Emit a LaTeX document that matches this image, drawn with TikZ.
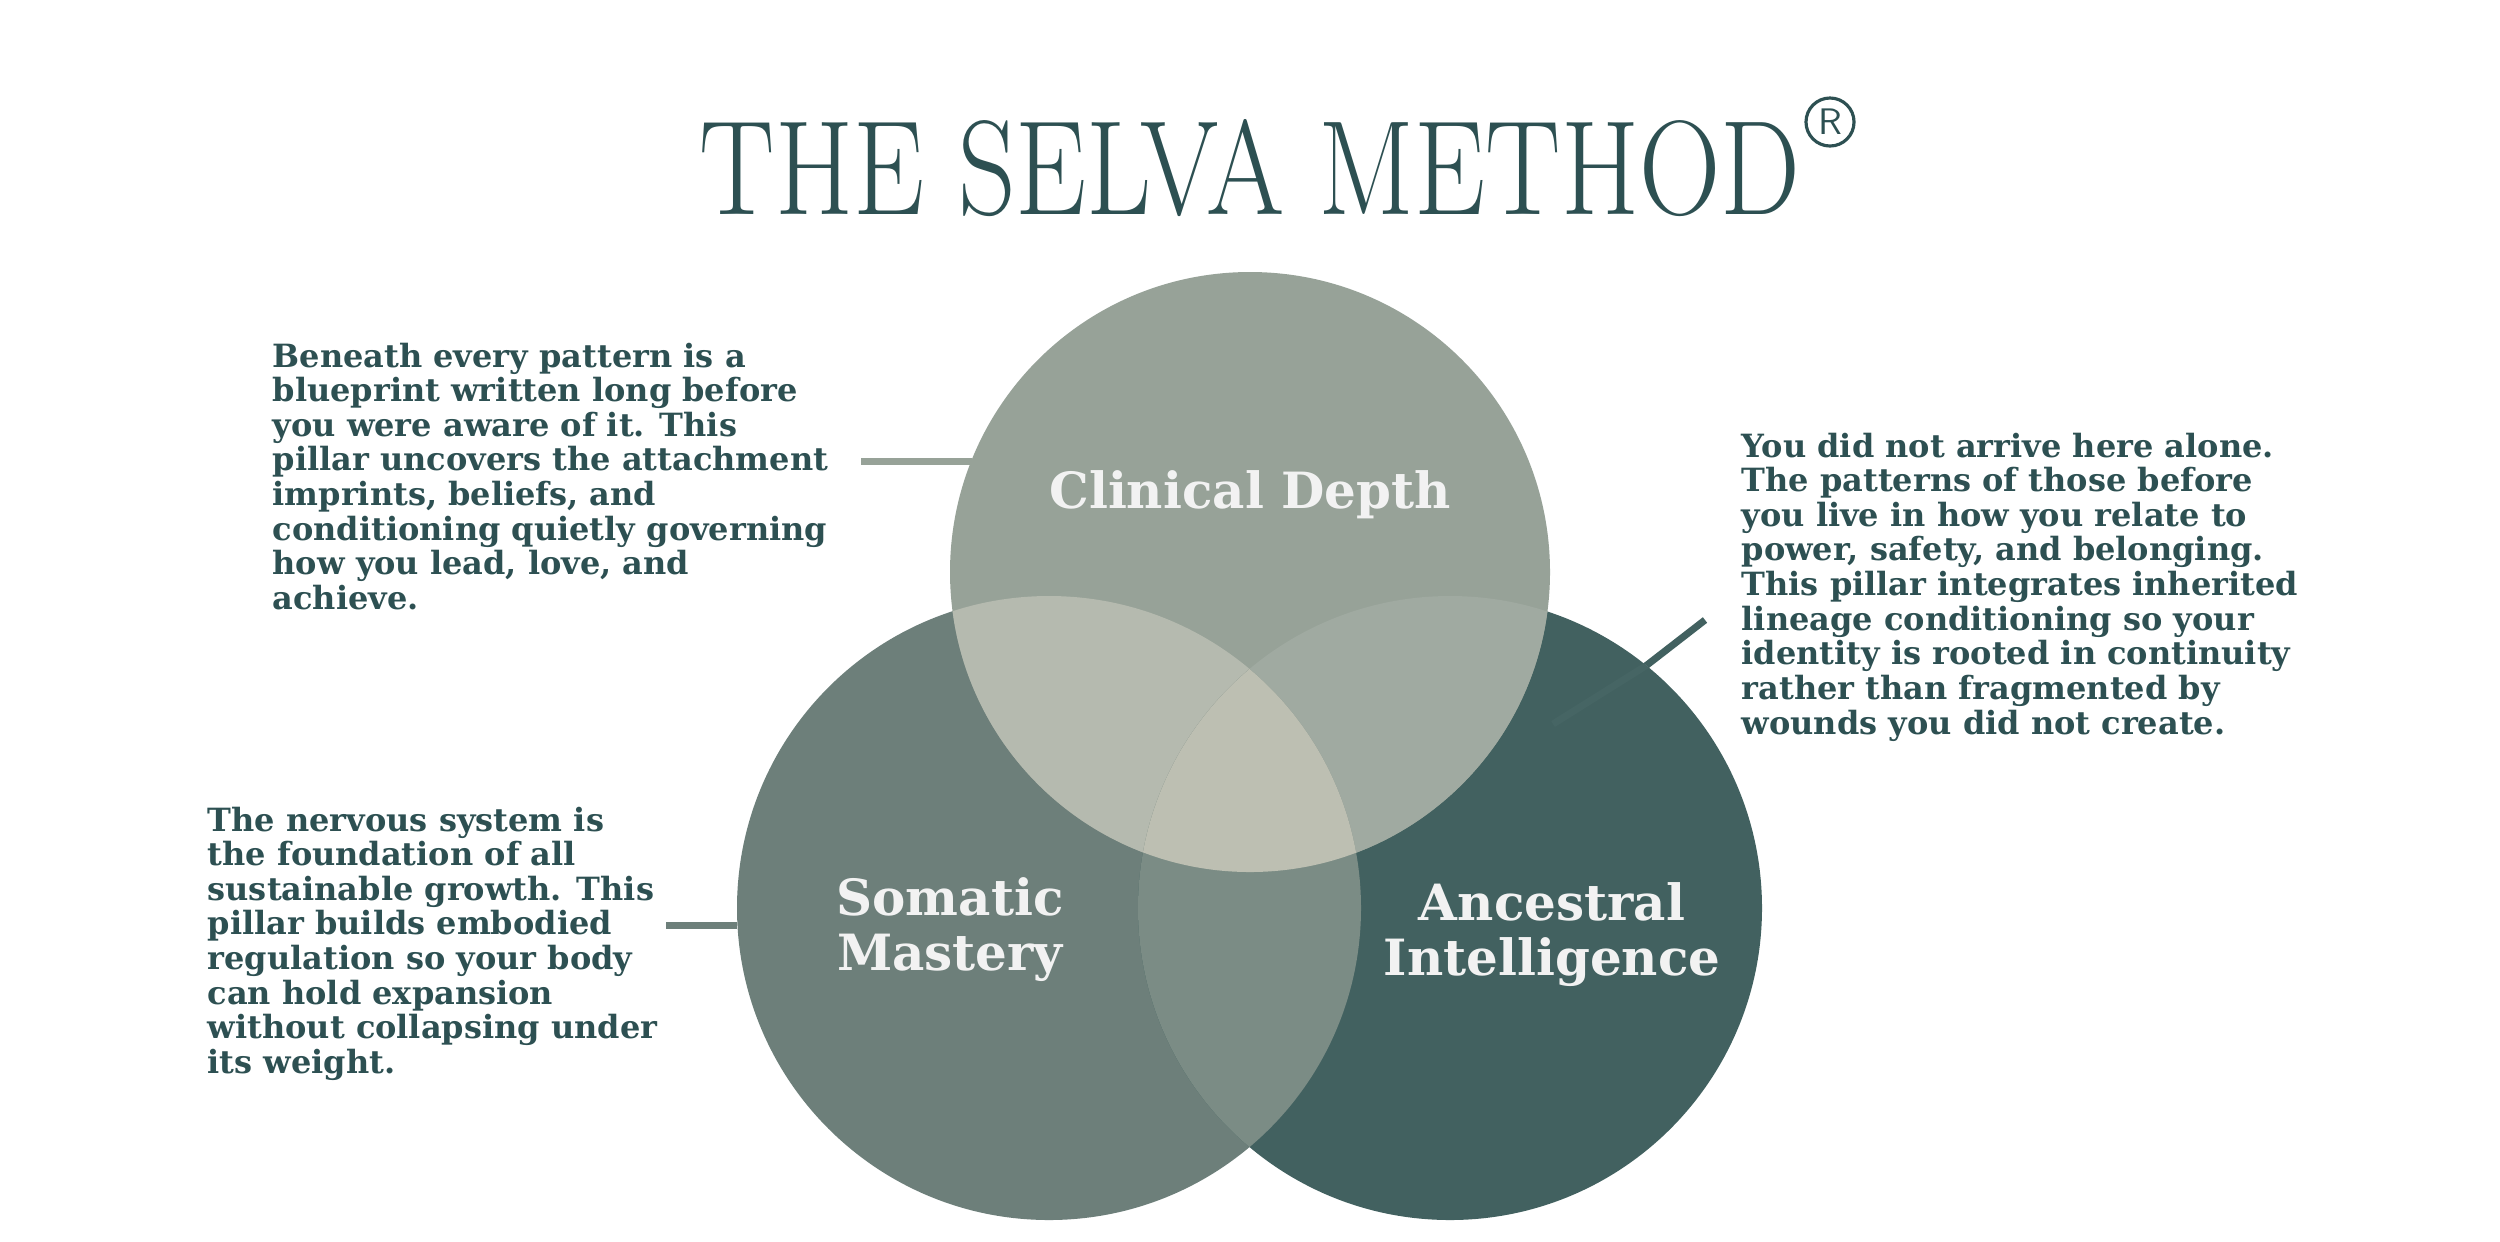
\documentclass[tikz,border=0pt]{standalone}
\usepackage{fontspec}
\usepackage{graphicx}
\newfontfamily\bodyfont{DejaVu Serif}
\definecolor{ink}{HTML}{2D5052}
\definecolor{ctop}{HTML}{97A298}
\definecolor{cleft}{HTML}{6D7F7A}
\definecolor{cright}{HTML}{426160}
\definecolor{ctl}{HTML}{B5BAAF}
\definecolor{ctr}{HTML}{A0AAA1}
\definecolor{clr}{HTML}{7B8C85}
\definecolor{cmid}{HTML}{BDBFB2}
\definecolor{lab}{HTML}{F2F2F2}
\definecolor{faint}{HTML}{466564}
\begin{document}
\begin{tikzpicture}[x=0.01cm,y=-0.01cm,
  para/.style={anchor=north west, inner sep=0, align=left, text=ink,
    font=\bodyfont\bfseries\fontsize{9.1}{9.85}\selectfont},
  pillar/.style={inner sep=0, align=center, text=lab,
    font=\bodyfont\bfseries\fontsize{14.2}{15.6}\selectfont},
  ring/.style={circle, inner sep=0, outer sep=0, minimum size=6cm},
  ringb/.style={circle, inner sep=0, outer sep=0, minimum size=6.24cm},
  link/.style={line width=2pt}]
\useasboundingbox (0,0) rectangle (2500,1241);
\fill[white] (0,0) rectangle (2500,1241);
\def\CT{(1250,572) circle[radius=300]}
\def\CL{(1049,908) circle[radius=312]}
\def\CR{(1450,908) circle[radius=312]}
% invisible circle nodes for connector ends
\node[ring] (topc) at (1250,572) {};
\node[ringb] (leftc) at (1049,908) {};
\node[ringb] (rightc) at (1450,908) {};
\coordinate (cdstart) at (861,461);
\coordinate (smstart) at (666,925);
\coordinate (anstart) at (1705,620);
\coordinate (aninner) at (1553,724);
% circles
\fill[cleft] \CL;
\fill[cright] \CR;
\fill[ctop] \CT;
\begin{scope}\clip \CT; \fill[ctl] \CL; \end{scope}
\begin{scope}\clip \CT; \fill[ctr] \CR; \end{scope}
\begin{scope}\clip \CL; \fill[clr] \CR; \end{scope}
\begin{scope}\clip \CT; \clip \CL; \fill[cmid] \CR; \end{scope}
% connectors
\draw[link, faint] (rightc.51.9) -- (aninner);
\draw[link, ctop] (cdstart) -- (cdstart -| topc.158.3);
\draw[link, cleft] (smstart) -- (smstart -| leftc.183.1);
\draw[link, cright] (anstart) -- (rightc.51.9);
% title
\node[anchor=base west, inner sep=0, text=ink] (title) at (699,214)
  {\resizebox{11.0cm}{0.95cm}{\fontsize{40}{40}\selectfont THE SELVA METHOD}};
\node[circle, draw=ink, line width=0.9pt, minimum size=0.48cm, inner sep=0,
  text=ink, font=\sffamily\fontsize{10.5}{10.5}\selectfont] (reg) at (1830,122) {R};
% pillar labels
\node[pillar, anchor=base] (clin) at (1250,508) {Clinical Depth};
\node[pillar, anchor=north] (soma) at (950,877) {Somatic\\Mastery};
\node[pillar, anchor=north] (ance) at (1552,882) {Ancestral\\Intelligence};
% paragraphs
\node[para] (ptl) at (272,342) {Beneath every pattern is a\\
blueprint written long before\\
you were aware of it. This\\
pillar uncovers the attachment\\
imprints, beliefs, and\\
conditioning quietly governing\\
how you lead, love, and\\
achieve.};
\node[para] (ptr) at (1741,432) {You did not arrive here alone.\\
The patterns of those before\\
you live in how you relate to\\
power, safety, and belonging.\\
This pillar integrates inherited\\
lineage conditioning so your\\
identity is rooted in continuity\\
rather than fragmented by\\
wounds you did not create.};
\node[para] (pbl) at (207,806) {The nervous system is\\
the foundation of all\\
sustainable growth. This\\
pillar builds embodied\\
regulation so your body\\
can hold expansion\\
without collapsing under\\
its weight.};
\end{tikzpicture}
\end{document}
